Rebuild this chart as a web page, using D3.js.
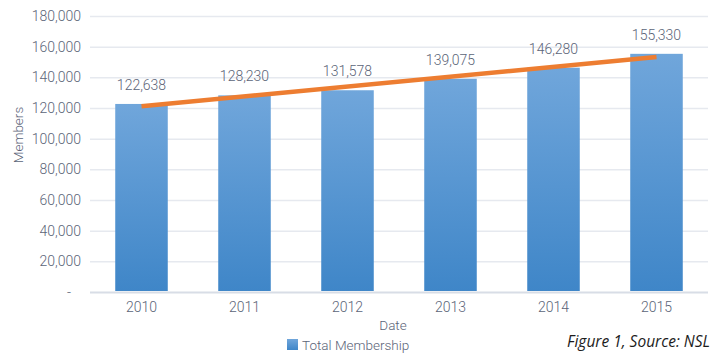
<!DOCTYPE html>
<html>
<head>
<meta charset="utf-8">
<script src="https://cdn.jsdelivr.net/npm/d3@7"></script>
<style>
  html, body { margin: 0; padding: 0; background: #fff; }
  svg { display: block; }
</style>
</head>
<body>
<svg id="chart" width="724" height="353"></svg>
<script>
// Membership totals by year
const years = ["2010", "2011", "2012", "2013", "2014", "2015"];
const membership = [122638, 128230, 131578, 139075, 146280, 155330];
const yTicks = [0, 20000, 40000, 60000, 80000, 100000, 120000, 140000, 160000, 180000];

const svg = d3.select("#chart");
const margin = { left: 90, right: 16, top: 16, bottom: 61 };
const W = 724, H = 353;
const textColor = "#5b6478";
const font = "Roboto, 'Liberation Sans', Arial, sans-serif";
const weight = 300;

const x = d3.scaleBand().domain(years).range([margin.left, W - margin.right]).paddingInner(0.49).paddingOuter(0.245);
const y = d3.scaleLinear().domain([0, 180000]).range([H - margin.bottom, margin.top]);

// gradient fill for bars and legend swatch
const defs = svg.append("defs");
["barFill", "legFill"].forEach(id => {
  const g = defs.append("linearGradient").attr("id", id)
    .attr("x1", 0).attr("y1", 0).attr("x2", 0).attr("y2", 1);
  g.append("stop").attr("offset", "0%").attr("stop-color", "#70a6db");
  g.append("stop").attr("offset", "100%").attr("stop-color", "#3f86c8");
});

// horizontal gridlines and y axis labels
const yAxis = d3.axisLeft(y).tickValues(yTicks)
  .tickSize(-(W - margin.left - margin.right))
  .tickPadding(9)
  .tickFormat(d => d === 0 ? "-" : d3.format(",")(d));
const gy = svg.append("g").attr("transform", `translate(${margin.left},0)`).call(yAxis);
gy.select(".domain").remove();
gy.selectAll(".tick line")
  .attr("stroke", d => d === 0 ? "#d8dde6" : "#e6e9ef")
  .attr("stroke-width", d => d === 0 ? 2.2 : 1.5);
gy.selectAll(".tick text")
  .attr("fill", textColor).attr("font-family", font).attr("font-weight", weight).attr("font-size", 14)
  .attr("dx", d => d === 0 ? -10 : 0);

// bars
svg.append("g").selectAll("rect").data(years).join("rect")
  .attr("x", d => x(d))
  .attr("width", x.bandwidth())
  .attr("y", (d, i) => y(membership[i]))
  .attr("height", (d, i) => y(0) - y(membership[i]) - 1)
  .attr("fill", "url(#barFill)");

// x axis labels
const xAxis = d3.axisBottom(x).tickSize(0).tickPadding(10);
const gx = svg.append("g").attr("transform", `translate(0,${y(0)})`).call(xAxis);
gx.select(".domain").remove();
gx.selectAll(".tick text")
  .attr("fill", textColor).attr("font-family", font).attr("font-weight", weight).attr("font-size", 14);

// linear trendline (least squares fit)
const n = membership.length;
const xs = d3.range(n);
const mx = d3.mean(xs), my = d3.mean(membership);
const slope = d3.sum(xs, i => (i - mx) * (membership[i] - my)) / d3.sum(xs, i => (i - mx) ** 2);
const intercept = my - slope * mx;
const trend = [0, n - 1].map(i => [x(years[i]) + x.bandwidth() / 2, y(intercept + slope * i)]);
svg.append("path")
  .attr("d", d3.line()(trend))
  .attr("stroke", "#ed7d31").attr("stroke-width", 4.5)
  .attr("stroke-linecap", "butt").attr("fill", "none");

// value labels
svg.append("g").selectAll("text").data(years).join("text")
  .attr("x", d => x(d) + x.bandwidth() / 2)
  .attr("y", (d, i) => y(membership[i]) - 14)
  .attr("text-anchor", "middle")
  .attr("fill", textColor).attr("font-family", font).attr("font-weight", weight).attr("font-size", 14)
  .text((d, i) => d3.format(",")(membership[i]));

// axis titles
svg.append("text")
  .attr("transform", "translate(23,135) rotate(-90)")
  .attr("text-anchor", "middle")
  .attr("fill", textColor).attr("font-family", font).attr("font-weight", weight).attr("font-size", 13.5)
  .text("Members");
svg.append("text")
  .attr("x", 393).attr("y", 330)
  .attr("text-anchor", "middle")
  .attr("fill", textColor).attr("font-family", font).attr("font-weight", weight).attr("font-size", 13.5)
  .text("Date");

// legend
svg.append("rect").attr("x", 287).attr("y", 339).attr("width", 11).attr("height", 11)
  .attr("fill", "url(#legFill)");
svg.append("text")
  .attr("x", 302).attr("y", 349.5)
  .attr("fill", textColor).attr("font-family", font).attr("font-weight", weight).attr("font-size", 13.5)
  .text("Total Membership");

// caption
svg.append("text")
  .attr("x", 710).attr("y", 347)
  .attr("text-anchor", "end")
  .attr("fill", "#1c1c1c").attr("font-family", "'Open Sans', sans-serif")
  .attr("font-style", "italic").attr("font-size", 15.5)
  .text("Figure 1, Source: NSL");
</script>
</body>
</html>
